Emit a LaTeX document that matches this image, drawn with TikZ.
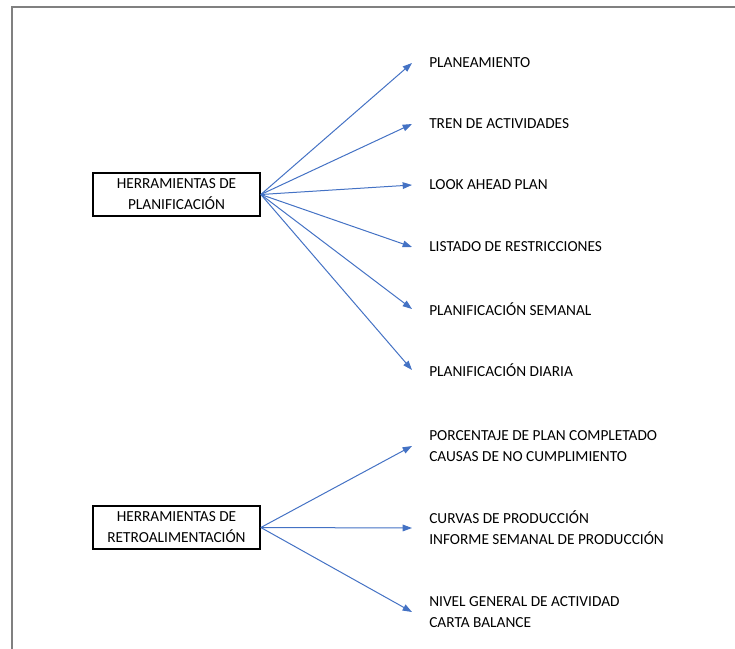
\documentclass[tikz,border=0pt]{standalone}
\usepackage{fontspec}
\setmainfont{Carlito}
\usepackage{xcolor}
\usepackage{tikz}
\usetikzlibrary{
  arrows.meta,
  positioning
}
\definecolor{arrowblue}{HTML}{4472C4}
\definecolor{framegray}{HTML}{808080}

\begin{document}
\begin{tikzpicture}[x=0.75pt, y=-0.75pt,
    every node/.style={font=\fontsize{11.5}{15.75}\selectfont},
    toolbox/.style={draw, line width=1.5pt, rectangle, minimum width=125pt, minimum height=32.5pt, align=center, inner sep=2pt},
    item/.style={anchor=west, align=left, inner xsep=12.75pt, inner ysep=0pt},
    link/.style={draw=arrowblue, line width=0.75pt, -{Triangle[length=7pt, width=5pt, fill=arrowblue]}}]
\useasboundingbox (0,0) rectangle (735,649);
\draw[framegray, line width=1.5pt] (12,649) -- (12,7) -- (735,7);

% herramientas
\node [toolbox] (plan) at (176.5,194.5) {HERRAMIENTAS DE\\PLANIFICACIÓN};
\node [toolbox] (retro) at (176.5,527.5) {HERRAMIENTAS DE\\RETROALIMENTACIÓN};

% planificacion
\node [item] (p1) at (412,63) {PLANEAMIENTO};
\node [item] (p2) at (412,124) {TREN DE ACTIVIDADES};
\node [item] (p3) at (412,185) {LOOK AHEAD PLAN};
\node [item] (p4) at (412,247) {LISTADO DE RESTRICCIONES};
\node [item] (p5) at (412,309) {PLANIFICACIÓN SEMANAL};
\node [item] (p6) at (412,370) {PLANIFICACIÓN DIARIA};

% retroalimentacion
\node [item] (r1) at (412,446) {PORCENTAJE DE PLAN COMPLETADO\\CAUSAS DE NO CUMPLIMIENTO};
\node [item] (r2) at (412,528) {CURVAS DE PRODUCCIÓN\\INFORME SEMANAL DE PRODUCCIÓN};
\node [item] (r3) at (412,612) {NIVEL GENERAL DE ACTIVIDAD\\CARTA BALANCE};

\foreach \n in {p1,p2,p3,p4,p5,p6}
  \draw [link] (plan.east) -- (\n.west);
\foreach \n in {r1,r2,r3}
  \draw [link] (retro.east) -- (\n.west);
\end{tikzpicture}
\end{document}
